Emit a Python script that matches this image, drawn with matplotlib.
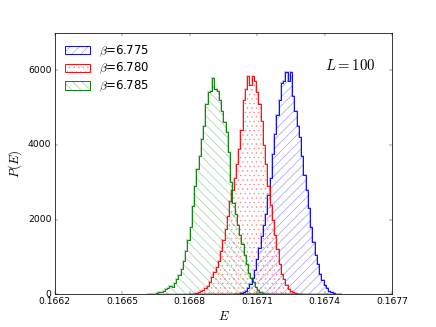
import matplotlib
matplotlib.use('Agg')
import matplotlib.pyplot as plt
import numpy as np
from matplotlib.patches import Patch

plt.style.use('classic')

# bin width 1e-5, first-bin left edges for each run
BW = 1e-5
green_start = 0.16661
green_counts = [5, 10, 15, 20, 30, 50, 70, 100, 130, 170, 230, 200, 300, 400, 520, 680,
                900, 1150, 1450, 1800, 2350, 2900, 3350, 3700, 4150, 4500, 5100, 5400,
                5450, 5800, 5500, 5450, 5200, 4900, 4600, 4350, 3800, 3000, 2450, 2150,
                1850, 1600, 1350, 1050, 800, 580, 430, 320, 200, 120, 70, 40, 20, 10, 5]
red_start = 0.166795
red_counts = [5, 10, 20, 35, 55, 80, 120, 170, 230, 330, 450, 600, 720, 900, 1150, 1450,
              1750, 2100, 2500, 2800, 3100, 3500, 3900, 4400, 5200, 5500, 5850, 5600,
              5850, 5700, 5400, 5100, 4650, 4000, 3500, 2900, 2400, 2000, 1600, 1200,
              800, 550, 400, 250, 150, 90, 55, 30, 15, 8, 4]
blue_start = 0.166995
blue_counts = [5, 10, 20, 35, 60, 100, 170, 280, 430, 650, 950, 1250, 1550, 1850, 2150,
               2650, 3100, 3750, 4300, 4800, 5200, 5650, 5700, 5950, 5700, 5950, 5300,
               4900, 4500, 4200, 3700, 3200, 2800, 2300, 1800, 1400, 1050, 800, 550, 380,
               250, 160, 100, 60, 35, 20, 10, 5]

runs = [(r'$\beta$=6.775', blue_start, blue_counts, 'b', '//'),
        (r'$\beta$=6.780', red_start, red_counts, 'r', '..'),
        (r'$\beta$=6.785', green_start, green_counts, 'g', '\\\\')]

fig = plt.figure(figsize=(8, 6))
ax = fig.add_subplot(111)

handles = []
labels = []
for lab, start, counts, col, hatch in runs:
    edges = start + BW * np.arange(len(counts) + 1)
    centers = edges[:-1] + BW / 2
    ax.hist(centers, bins=edges, weights=counts, histtype='stepfilled', fill=False,
            hatch=hatch, edgecolor=col, alpha=0.35, linewidth=2)
    ax.hist(centers, bins=edges, weights=counts, histtype='step', color=col, linewidth=1.2)
    p1 = Patch(fill=False, hatch=hatch, edgecolor=col, alpha=0.35)
    p2 = Patch(fill=False, edgecolor=col, linewidth=1.2)
    handles.append((p1, p2))
    labels.append(lab)

ax.set_xlim(0.1662, 0.1677)
ax.set_ylim(0, 7000)
ax.set_xticks([0.1662, 0.1665, 0.1668, 0.1671, 0.1674, 0.1677])
ax.set_xticklabels(['0.1662', '0.1665', '0.1668', '0.1671', '0.1674', '0.1677'])
ax.set_yticks([0, 2000, 4000, 6000])
ax.set_xlabel(r'$E$', fontsize=17)
ax.set_ylabel(r'$P(E)$', fontsize=17)
ax.text(0.80, 0.875, r'$L=100$', transform=ax.transAxes, fontsize=19.5, va='center')
ax.legend(handles, labels, loc='upper left', frameon=False, fontsize=15.5,
          handlelength=2.1, handletextpad=0.8, labelspacing=0.22, borderaxespad=0.5)

plt.savefig('out.png', dpi=54.5)
